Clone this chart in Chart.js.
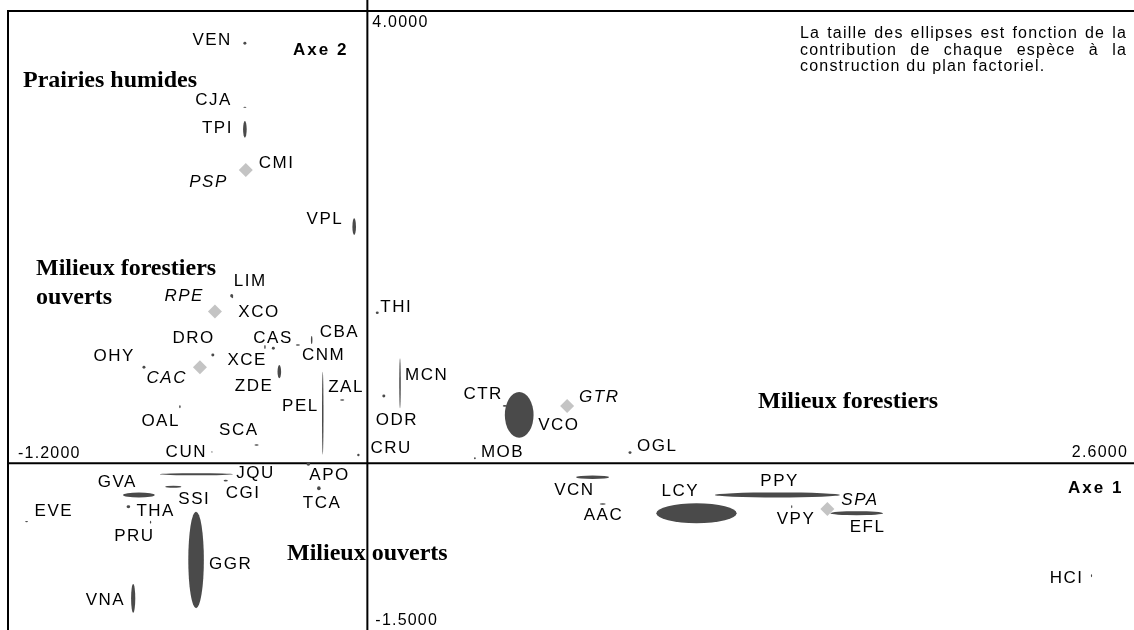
<!DOCTYPE html>
<html>
<head>
<meta charset="utf-8">
<script src="https://cdn.jsdelivr.net/npm/chart.js@4/dist/chart.umd.min.js"></script>
<style>
  html, body { margin: 0; padding: 0; background: #fff; overflow: hidden; }
  #wrap { width: 1146px; height: 633px; }
</style>
</head>
<body>
<div id="wrap"><canvas id="plan" width="1146" height="633"></canvas></div>
<script>
// axis ranges of the factorial plan
const xRange = [-1.2, 2.6];
const yRange = [-1.5, 4.0];

// species: coordinates on axe 1 / axe 2 and ellipse half-lengths (contributions)
const species = ['VEN','CJA','TPI','CMI','VPL','THI','LIM','XCO','DRO','XCE','CAS','CNM','CBA','OHY','ZDE','PEL','ZAL','OAL','SCA','CUN','CRU',
                 'JQU','CGI','SSI','GVA','THA','EVE','PRU','GGR','VNA','APO','TCA','MCN','ODR','CTR','VCO','MOB','OGL','VCN','AAC','LCY','PPY','VPY','EFL','HCI'];
const axe1 = [-0.409,-0.409,-0.409,-0.406,-0.044,0.033,-0.453,-0.451,-0.516,-0.342,-0.314,-0.232,-0.186,-0.746,-0.294,-0.149,-0.084,-0.626,-0.370,-0.519,-0.030,
              -0.571,-0.473,-0.648,-0.763,-0.798,-1.138,-0.724,-0.572,-0.782,-0.197,-0.162,0.109,0.055,0.459,0.507,0.359,0.877,0.752,0.786,1.099,1.369,1.417,1.634,2.418];
const axe2 = [3.714,3.149,2.954,2.595,2.093,1.332,1.483,1.470,0.958,1.029,1.018,1.047,1.091,0.850,0.811,0.443,0.561,0.501,0.163,0.101,0.074,
              -0.096,-0.153,-0.206,-0.279,-0.383,-0.515,-0.521,-0.854,-1.193,-0.005,-0.220,0.708,0.596,0.508,0.428,0.045,0.095,-0.123,-0.359,-0.441,-0.279,-0.383,-0.441,-0.993];
const ctr1 = [0.005,0.005,0.006,0.003,0.006,0.005,0.005,0.003,0.005,0.0025,0.005,0.007,0.0025,0.005,0.006,0.0025,0.007,0.0025,0.007,0.001,0.004,
              0.122,0.007,0.027,0.053,0.006,0.005,0.002,0.026,0.007,0.006,0.006,0.0025,0.005,0.007,0.048,0.003,0.005,0.055,0.010,0.134,0.209,0.002,0.088,0.002];
const ctr2 = [0.013,0.004,0.074,0.009,0.074,0.011,0.015,0.009,0.013,0.018,0.013,0.007,0.035,0.013,0.059,0.367,0.007,0.013,0.007,0.002,0.011,
              0.009,0.007,0.009,0.022,0.013,0.004,0.013,0.427,0.127,0.015,0.018,0.221,0.013,0.007,0.202,0.009,0.013,0.015,0.007,0.088,0.022,0.013,0.018,0.013];

// supplementary points (grey diamonds)
const groups = ['PSP','RPE','CAC','GTR','SPA'];
const groupAxe1 = [-0.406,-0.509,-0.559,0.667,1.536];
const groupAxe2 = [2.595,1.343,0.850,0.508,-0.403];

// label placement next to each mark: [dx, dy, align]
const labelPos = {
    VEN:[-13,-3,'right'], CJA:[-13,-7,'right'], TPI:[-12,-1,'right'], CMI:[13,-7,'left'], VPL:[-11,-7,'right'],
    THI:[3,-5,'left'], LIM:[2,-14,'left'], XCO:[6,15,'left'], DRO:[2,-17,'right'], XCE:[2,13,'right'],
    CAS:[-20,-10,'left'], CNM:[4,10,'left'], CBA:[8,-8,'left'], OHY:[-9,-11,'right'], ZDE:[-6,15,'right'],
    PEL:[-4,-7,'right'], ZAL:[-14,-13,'left'], OAL:[0,15,'right'], SCA:[2,-15,'right'], CUN:[-5,0,'right'],
    CRU:[12,-7,'left'], JQU:[40,-1,'left'], CGI:[0,13,'left'], SSI:[5,13,'left'], GVA:[-2,-13,'right'],
    THA:[8,5,'left'], EVE:[8,-10,'left'], PRU:[4,14,'right'], GGR:[13,4,'left'], VNA:[-8,2,'right'],
    APO:[1,11,'left'], TCA:[-16,15,'left'], MCN:[5,-8,'left'], ODR:[-8,24,'left'], CTR:[-2,-12,'right'],
    VCO:[19,10,'left'], MOB:[6,-6,'left'], OGL:[7,-6,'left'], VCN:[2,13,'right'], AAC:[-19,11,'left'],
    LCY:[-35,-22,'left'], PPY:[-17,-14,'left'], VPY:[-15,13,'left'], EFL:[-7,14,'left'], HCI:[-8,3,'right'],
    PSP:[-18,12,'right'], RPE:[-11,-15,'right'], CAC:[-13,11,'right'], GTR:[12,-9,'left'], SPA:[14,-9,'left']
};

// habitat titles and notes
const regions = [
    ['Prairies humides', 23, 80],
    ['Milieux forestiers', 36, 268],
    ['ouverts', 36, 297],
    ['Milieux ouverts', 287, 553],
    ['Milieux forestiers', 758, 401]
];
const note = ['La taille des ellipses est fonction de la', 'contribution de chaque espèce à la', 'construction du plan factoriel.'];

function setSpacing(ctx, px) {
    if ('letterSpacing' in ctx) ctx.letterSpacing = px + 'px';
}

const planPlugin = {
    id: 'plan',
    beforeDatasetsDraw(chart) {
        const ctx = chart.ctx;
        const a = chart.chartArea;
        const xs = chart.scales.x, ys = chart.scales.y;
        const x0 = xs.getPixelForValue(0), y0 = ys.getPixelForValue(0);
        ctx.save();
        ctx.strokeStyle = '#000';
        ctx.lineWidth = 2;
        ctx.beginPath();
        // frame top + left
        ctx.moveTo(a.left, chart.height);
        ctx.lineTo(a.left, a.top);
        ctx.lineTo(chart.width, a.top);
        // axes
        ctx.moveTo(x0, 0);
        ctx.lineTo(x0, chart.height);
        ctx.moveTo(a.left, y0);
        ctx.lineTo(chart.width, y0);
        ctx.stroke();

        // species ellipses
        const meta = chart.getDatasetMeta(0);
        ctx.fillStyle = '#4a4a4a';
        meta.data.forEach((pt, i) => {
            const rx = Math.max(0.6, xs.getPixelForValue(axe1[i] + ctr1[i]) - pt.x);
            const ry = Math.max(0.6, pt.y - ys.getPixelForValue(axe2[i] + ctr2[i]));
            ctx.beginPath();
            ctx.ellipse(pt.x, pt.y, rx, ry, 0, 0, Math.PI * 2);
            ctx.fill();
        });
        ctx.restore();
    },
    afterDatasetsDraw(chart) {
        const ctx = chart.ctx;
        const a = chart.chartArea;
        const xs = chart.scales.x, ys = chart.scales.y;
        const x0 = xs.getPixelForValue(0), y0 = ys.getPixelForValue(0);
        ctx.save();
        ctx.fillStyle = '#000';
        ctx.textBaseline = 'middle';

        // point labels
        const drawLabels = (meta, names, italic) => {
            ctx.font = (italic ? 'italic ' : '') + '17px "Liberation Sans", Arial, sans-serif';
            setSpacing(ctx, 1.5);
            meta.data.forEach((pt, i) => {
                const p = labelPos[names[i]];
                ctx.textAlign = p[2];
                ctx.fillText(names[i], pt.x + p[0], pt.y + p[1]);
            });
        };
        drawLabels(chart.getDatasetMeta(0), species, false);
        drawLabels(chart.getDatasetMeta(1), groups, true);

        // axis end values
        ctx.font = '16px "Liberation Sans", Arial, sans-serif';
        setSpacing(ctx, 1.2);
        ctx.textAlign = 'left';
        ctx.fillText(xs.min.toFixed(4), a.left + 10, y0 - 10);
        ctx.fillText(ys.max.toFixed(4), x0 + 5, a.top + 12);
        ctx.fillText(ys.min.toFixed(4), x0 + 8, 621);
        ctx.textAlign = 'right';
        ctx.fillText(xs.max.toFixed(4), 1128, y0 - 11);

        // axis names
        ctx.font = 'bold 17px "Liberation Sans", Arial, sans-serif';
        setSpacing(ctx, 2);
        ctx.textAlign = 'left';
        ctx.fillText('Axe 2', 293, 50);
        ctx.fillText('Axe 1', 1068, 488);

        // habitat titles
        ctx.font = 'bold 24px "Liberation Serif", "Times New Roman", serif';
        setSpacing(ctx, 0);
        regions.forEach(r => ctx.fillText(r[0], r[1], r[2] + 1));

        // justified note
        ctx.font = '16px "Liberation Sans", Arial, sans-serif';
        setSpacing(ctx, 1.2);
        const left = 800, width = 327;
        note.forEach((line, k) => {
            const y = 34 + k * 16.5;
            if (k === note.length - 1) {
                ctx.fillText(line, left, y);
                return;
            }
            const words = line.split(' ');
            const total = words.reduce((s, w) => s + ctx.measureText(w).width, 0);
            const gap = (width - total) / (words.length - 1);
            let x = left;
            words.forEach(w => {
                ctx.fillText(w, x, y);
                x += ctx.measureText(w).width + gap;
            });
        });
        ctx.restore();
    }
};

new Chart(document.getElementById('plan'), {
    type: 'scatter',
    data: {
        datasets: [{
            label: 'Espèces',
            data: species.map((s, i) => ({ x: axe1[i], y: axe2[i] })),
            pointRadius: 0,
            pointHoverRadius: 0
        }, {
            label: 'Groupes',
            data: groups.map((g, i) => ({ x: groupAxe1[i], y: groupAxe2[i] })),
            pointStyle: 'rectRot',
            pointRadius: 7,
            backgroundColor: '#c4c4c4',
            borderColor: '#c4c4c4',
            borderWidth: 0
        }]
    },
    options: {
        responsive: false,
        animation: false,
        devicePixelRatio: 1,
        // plot runs a few pixels past the right/bottom edge of the window
        layout: { autoPadding: false, padding: { left: 8, top: 11, right: 0, bottom: 0 } },
        plugins: { legend: { display: false }, tooltip: { enabled: false } },
        scales: {
            x: { type: 'linear', min: xRange[0], max: xRange[1], display: false },
            y: { type: 'linear', min: yRange[0], max: yRange[1], display: false }
        }
    },
    plugins: [planPlugin]
});
</script>
</body>
</html>
